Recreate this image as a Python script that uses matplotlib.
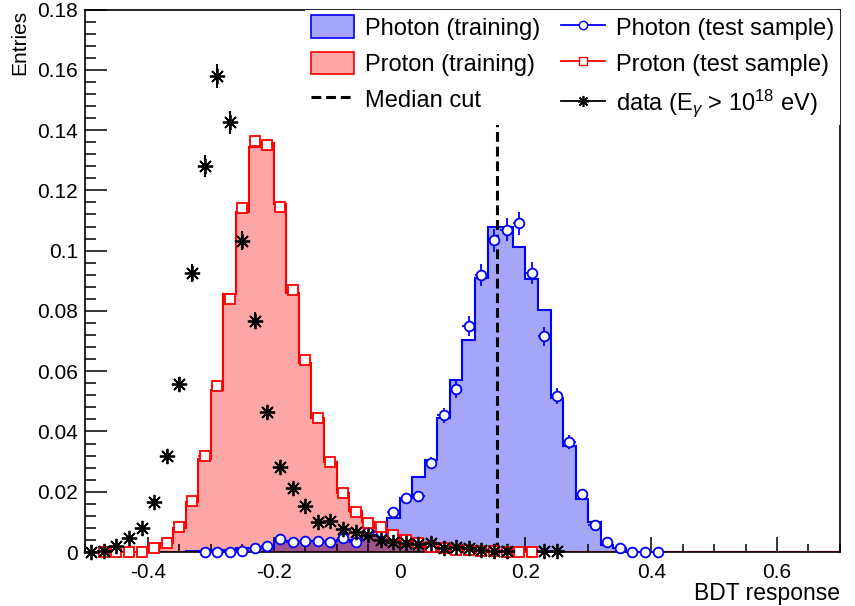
import numpy as np
import matplotlib.pyplot as plt
from matplotlib.patches import Patch
from matplotlib.lines import Line2D
from matplotlib.ticker import MultipleLocator, FuncFormatter

plt.rcParams['font.family'] = ['Liberation Sans', 'DejaVu Sans']
plt.rcParams['mathtext.fontset'] = 'custom'
plt.rcParams['mathtext.rm'] = 'Liberation Sans'
plt.rcParams['mathtext.it'] = 'Liberation Sans:italic'

# binning: 60 bins of 0.02 from -0.5 to 0.7
edges = np.round(np.linspace(-0.5, 0.7, 61), 3)

# training histograms (bin contents)
proton_train = [0, 0, 0, 0, 0,
                0.0013, 0.003, 0.0081, 0.0167, 0.0308, 0.0537, 0.0856, 0.1128, 0.1344, 0.1357,
                0.1154, 0.086, 0.0627, 0.0446, 0.030, 0.0196, 0.0135, 0.0098, 0.0078, 0.0058,
                0.004, 0.003, 0.0018, 0.0013, 0.0008, 0.0005, 0.0003, 0.0002, 0.0001] + [0] * 26

photon_train = [0] * 8 + [0.0003, 0.0003, 0.0005, 0.0005, 0.0014, 0.0014, 0.0014, 0.0036, 0.0036,
                          0.0035, 0.0036, 0.0035, 0.004, 0.004, 0.0052, 0.0058, 0.0114, 0.018,
                          0.025, 0.0305, 0.0445, 0.057, 0.0703, 0.091, 0.108, 0.108, 0.1013,
                          0.0906, 0.0803, 0.051, 0.0353, 0.0176, 0.010, 0.0023, 0.0013] + [0] * 17

# test samples
photon_test_x = np.round(np.arange(-0.31, 0.42, 0.02), 2)
photon_test = [0, 0, 0.0001, 0.0004, 0.0014, 0.0021, 0.0043, 0.0034, 0.0037, 0.0037, 0.0034,
               0.0045, 0.0032, 0.0067, 0.0067, 0.0132, 0.0179, 0.0186, 0.0295, 0.0454, 0.054,
               0.075, 0.092, 0.1035, 0.107, 0.109, 0.0925, 0.0716, 0.0517, 0.0365, 0.0192,
               0.009, 0.0033, 0.0013, 0, 0, 0]

proton_test_x = np.round(np.arange(-0.47, 0.22, 0.02), 2)
proton_test = [0, 0, 0, 0, 0.0013, 0.003, 0.0083, 0.017, 0.032, 0.055, 0.084, 0.114, 0.1365,
               0.135, 0.1145, 0.087, 0.0637, 0.0443, 0.030, 0.0195, 0.0133, 0.0096, 0.0083,
               0.0056, 0.004, 0.003, 0.0017, 0.0013, 0.0007, 0.0005, 0.0003, 0.0002, 0.0001,
               0, 0]

# data above 10^18 eV
data_x = [-0.49, -0.47, -0.45, -0.43, -0.41, -0.39, -0.37, -0.35, -0.33, -0.31, -0.29, -0.27,
          -0.25, -0.23, -0.21, -0.19, -0.17, -0.15, -0.13, -0.11, -0.09, -0.07, -0.05, -0.03,
          -0.01, 0.01, 0.03, 0.05, 0.07, 0.09, 0.11, 0.13, 0.15, 0.17, 0.23, 0.25]
data_y = [0, 0.0003, 0.002, 0.0047, 0.008, 0.0167, 0.032, 0.0557, 0.0926, 0.128, 0.158, 0.1426,
          0.1033, 0.0767, 0.0464, 0.0282, 0.0212, 0.0153, 0.010, 0.0103, 0.0075, 0.0067, 0.0056,
          0.004, 0.0034, 0.003, 0.0027, 0.003, 0.0013, 0.0018, 0.0013, 0.0007, 0.0003, 0.0003,
          0.0003, 0.0003]

median_cut = 0.155

proton_train = np.array(proton_train)
photon_train = np.array(photon_train)
photon_test = np.array(photon_test)
proton_test = np.array(proton_test)
data_y = np.array(data_y)

blue_fill = '#a6a6f8'
red_fill = '#fca6a6'
overlap_fill = '#a0548e'

fig = plt.figure(figsize=(8.55, 6.06), dpi=100)
ax = fig.add_axes([0.0994, 0.0891, 0.883, 0.8952])

# filled training histograms
ax.stairs(proton_train, edges, fill=True, color=red_fill, lw=0, zorder=1)
ax.stairs(photon_train, edges, fill=True, color=blue_fill, lw=0, zorder=1.1)
ax.stairs(np.minimum(proton_train, photon_train), edges, fill=True, color=overlap_fill, lw=0, zorder=1.2)
ax.stairs(photon_train, edges, color='blue', lw=1.5, zorder=2)
ax.stairs(proton_train, edges, color='red', lw=1.5, zorder=2.1)
ax.axhline(0, color='red', lw=2, zorder=2.2)

# median cut
ax.axvline(median_cut, color='black', lw=2.2, ls=(0, (3.2, 1.6)), zorder=3)

# test samples
ax.errorbar(photon_test_x, photon_test, xerr=0.01, yerr=np.sqrt(photon_test * 1.4e-4),
            fmt='o', ms=7, mfc='white', mec='blue', mew=1.3, ecolor='blue', elinewidth=1.3,
            capsize=0, zorder=4, clip_on=False)
ax.errorbar(proton_test_x, proton_test, xerr=0.01, yerr=np.sqrt(proton_test * 3e-5),
            fmt='s', ms=6.5, mfc='white', mec='red', mew=1.3, ecolor='red', elinewidth=1.3,
            capsize=0, zorder=4, clip_on=False)
ax.errorbar(data_x, data_y, yerr=np.sqrt(data_y * 1e-4), fmt='none', ecolor='black',
            elinewidth=1.5, capsize=0, zorder=5)
ax.plot(data_x, data_y, ls='none', marker=(8, 2, 0), ms=11, mec='black', mew=1.3,
        zorder=5, clip_on=False)

ax.set_xlim(-0.5, 0.7)
ax.set_ylim(0, 0.18)

# ROOT-like axes
ax.xaxis.set_major_locator(MultipleLocator(0.2))
ax.xaxis.set_minor_locator(MultipleLocator(0.05))
ax.yaxis.set_major_locator(MultipleLocator(0.02))
ax.yaxis.set_minor_locator(MultipleLocator(0.004))
fmt = FuncFormatter(lambda v, p: '%g' % round(v, 3))
ax.xaxis.set_major_formatter(fmt)
ax.yaxis.set_major_formatter(fmt)
ax.tick_params(axis='both', direction='in', labelsize=15, width=1.1, colors='black')
ax.tick_params(axis='x', which='major', length=11, pad=8)
ax.tick_params(axis='x', which='minor', length=5.5, width=1.1, direction='in')
ax.tick_params(axis='y', which='major', length=16, pad=5)
ax.tick_params(axis='y', which='minor', length=8, width=1.1, direction='in')
for s in ax.spines.values():
    s.set_linewidth(1.2)

ax.set_xlabel('BDT response', fontsize=16.5, loc='right', labelpad=0)
ax.set_ylabel('Entries', fontsize=15, loc='top', labelpad=6)

handles = [
    Patch(facecolor=blue_fill, edgecolor='blue', lw=1.2),
    Patch(facecolor=red_fill, edgecolor='red', lw=1.2),
    Line2D([], [], color='black', ls=(0, (3.2, 1.6)), lw=2.2),
    Line2D([], [], color='blue', marker='o', ms=6, mfc='white', mec='blue', lw=1.3),
    Line2D([], [], color='red', marker='s', ms=5.5, mfc='white', mec='red', lw=1.3),
    Line2D([], [], color='black', marker=(8, 2, 0), ms=8, mew=1.2, lw=1.3),
]
labels = ['Photon (training)', 'Proton (training)', 'Median cut',
          'Photon (test sample)', 'Proton (test sample)',
          r'data (E$_{\gamma}$ > 10$^{18}$ eV)']
leg = ax.legend(handles, labels, ncol=2, loc='upper left', bbox_to_anchor=(0.291, 0.8, 0.709, 0.2),
                mode='expand', fontsize=17, frameon=True, fancybox=False, framealpha=1,
                facecolor='white', edgecolor='none', handlelength=1.85, handleheight=1.1,
                handletextpad=0.45, columnspacing=0.3, labelspacing=0.5, borderpad=0.25,
                borderaxespad=0)
leg.set_zorder(10)

fig.savefig('out.png', dpi=100)
